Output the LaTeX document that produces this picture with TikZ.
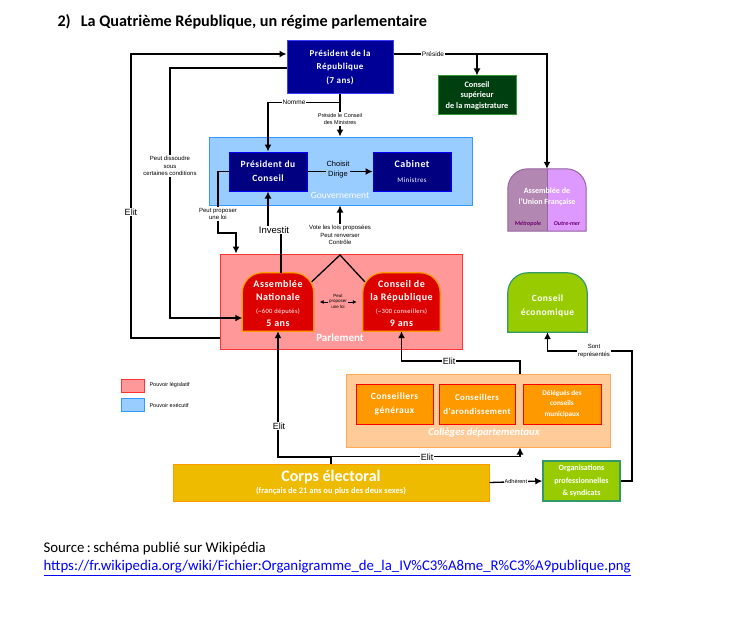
\documentclass[tikz,border=0pt]{standalone}
\usepackage{fontspec}
\setmainfont{Carlito}
\newfontfamily\arialfont{Liberation Sans}
\newfontfamily\boxfont{Carlito}[LetterSpace=5]
\usetikzlibrary{arrows.meta}

\definecolor{prfill}{RGB}{0,0,150}
\definecolor{prdraw}{RGB}{60,60,255}
\definecolor{pcfill}{RGB}{0,0,128}
\definecolor{pcdraw}{RGB}{0,0,255}
\definecolor{gouvfill}{RGB}{153,204,255}
\definecolor{gouvdraw}{RGB}{51,153,255}
\definecolor{csmfill}{RGB}{0,64,16}
\definecolor{csmdraw}{RGB}{51,153,51}
\definecolor{parlfill}{RGB}{255,153,153}
\definecolor{parldraw}{RGB}{255,51,51}
\definecolor{domered}{RGB}{221,0,0}
\definecolor{domeedge}{RGB}{255,153,0}
\definecolor{greenfill}{RGB}{153,204,0}
\definecolor{greendraw}{RGB}{51,153,102}
\definecolor{colfill}{RGB}{255,204,153}
\definecolor{coldraw}{RGB}{255,170,85}
\definecolor{orfill}{RGB}{255,153,0}
\definecolor{ordraw}{RGB}{255,0,0}
\definecolor{corpsfill}{RGB}{238,187,0}
\definecolor{aufleft}{RGB}{178,136,178}
\definecolor{aufright}{RGB}{221,153,255}
\definecolor{aufdraw}{RGB}{150,100,160}
\definecolor{auftext}{RGB}{110,0,110}
\definecolor{linkblue}{RGB}{0,0,255}

\begin{document}
\begin{tikzpicture}[x=1pt,y=-1pt,
    arr/.style={-{Latex[length=7pt,width=7pt]}, line width=1.3pt},
    conn/.style={line width=1.3pt},
    lbl/.style={fill=white, inner sep=1pt, align=center, font=\arialfont\fontsize{6}{7.5}\selectfont},
    elit/.style={lbl, font=\arialfont\fontsize{9}{10}\selectfont},
    box/.style={draw, line width=1pt, inner sep=0pt, align=center, text=white, font=\boxfont\bfseries\fontsize{9}{10}\selectfont},
    domefont/.style={inner sep=0pt, align=center, text=white, font=\boxfont\bfseries\fontsize{10}{13}\selectfont},
]
\useasboundingbox (0,0) rectangle (737,618);

\node[anchor=west, font=\bfseries\fontsize{16.2}{18}\selectfont] (title) at (54,22) {2)\hspace{10pt}La Quatrième République, un régime parlementaire};

% executif
\node[box, fill=prfill, draw=prdraw, minimum width=106pt, minimum height=53pt, font=\boxfont\bfseries\fontsize{9}{13.5}\selectfont] (pr) at (340,67.5) {Président de la\\République\\(7 ans)};
\node[box, fill=csmfill, draw=csmdraw, minimum width=78pt, minimum height=39pt, font=\bfseries\fontsize{8.3}{10.5}\selectfont] (csm) at (477,95.5) {Conseil\\supérieur\\de la magistrature};
\node[box, fill=gouvfill, draw=gouvdraw, minimum width=263pt, minimum height=68pt] (gouv) at (340.5,171) {};
\node[text=white, font=\fontsize{9.5}{10}\selectfont] (gouvlbl) at (340,195) {Gouvernement};
\node[box, fill=pcfill, draw=pcdraw, minimum width=78pt, minimum height=39pt, font=\boxfont\bfseries\fontsize{9.5}{14}\selectfont] (pdc) at (268,171.5) {Président du\\Conseil};
\node[box, fill=pcfill, draw=pcdraw, minimum width=78pt, minimum height=39pt] (cab) at (412,171.5) {{\fontsize{10}{12}\selectfont Cabinet}\\[5pt]{\mdseries\fontsize{7}{9}\selectfont Ministres}};

% Assemblee de l'Union francaise
\node[minimum width=78pt, minimum height=62pt, inner sep=0pt] (auf) at (547,200) {};
\fill[aufleft] (auf.south west) [rounded corners=20pt] -- (auf.north west) -- (auf.north east) [sharp corners] -- (auf.south east) -- cycle;
\begin{scope}
  \clip (auf.north) rectangle (auf.south east);
  \fill[aufright] (auf.south west) [rounded corners=20pt] -- (auf.north west) -- (auf.north east) [sharp corners] -- (auf.south east) -- cycle;
\end{scope}
\draw[aufdraw, line width=1pt] (auf.south west) [rounded corners=20pt] -- (auf.north west) -- (auf.north east) [sharp corners] -- (auf.south east) -- cycle;
\draw[aufdraw, line width=0.8pt] (auf.north) -- (auf.south);
\node[inner sep=0pt, align=center, text=white, font=\bfseries\fontsize{8}{11}\selectfont] (auftxt) at (547,197) {Assemblée de\\l'Union Française};
\node[text=auftext, font=\bfseries\itshape\fontsize{6}{7}\selectfont] (metro) at (528,224) {Métropole};
\node[text=auftext, font=\bfseries\itshape\fontsize{6}{7}\selectfont] (outremer) at (567,224) {Outre-mer};

% parlement
\node[box, fill=parlfill, draw=parldraw, minimum width=242pt, minimum height=95pt] (parl) at (341,301.5) {};
\node[text=white, font=\bfseries\fontsize{11}{12}\selectfont] (parllbl) at (340,338) {Parlement};
\node[minimum width=71pt, minimum height=58pt, inner sep=0pt] (an) at (278,302) {};
\node[minimum width=77pt, minimum height=58pt, inner sep=0pt] (cr) at (401.5,302) {};
\draw[domeedge, fill=domered, line width=1.2pt] (an.south west) [rounded corners=20pt] -- (an.north west) -- (an.north east) [sharp corners] -- (an.south east) -- cycle;
\draw[domeedge, fill=domered, line width=1.2pt] (cr.south west) [rounded corners=20pt] -- (cr.north west) -- (cr.north east) [sharp corners] -- (cr.south east) -- cycle;
\node[domefont] (antxt) at (278,304) {Assemblée\\Nationale\\{\mdseries\fontsize{6.5}{13}\selectfont (\textasciitilde600 députés)}\\5 ans};
\node[domefont] (crtxt) at (401.5,304) {Conseil de\\la République\\{\mdseries\fontsize{6.5}{13}\selectfont (\textasciitilde300 conseillers)}\\9 ans};

% conseil economique
\node[minimum width=79pt, minimum height=59pt, inner sep=0pt] (ce) at (547.5,302.5) {};
\draw[greendraw, fill=greenfill, line width=1.2pt] (ce.south west) [rounded corners=20pt] -- (ce.north west) -- (ce.north east) [sharp corners] -- (ce.south east) -- cycle;
\node[domefont, font=\boxfont\bfseries\fontsize{9.5}{14}\selectfont] (cetxt) at (547.5,306) {Conseil\\économique};

% colleges
\node[box, fill=colfill, draw=coldraw, minimum width=264pt, minimum height=73pt] (col) at (478,410.5) {};
\node[text=white, font=\bfseries\itshape\fontsize{10.5}{12}\selectfont] (collbl) at (484,433) {Collèges départementaux};
\node[box, fill=orfill, draw=ordraw, minimum width=77pt, minimum height=40pt, font=\boxfont\bfseries\fontsize{9.5}{14}\selectfont] (cg) at (394.5,404) {Conseillers\\généraux};
\node[box, fill=orfill, draw=ordraw, minimum width=76pt, minimum height=40pt, font=\boxfont\bfseries\fontsize{8.8}{14}\selectfont] (ca) at (477,404) {Conseillers\\d'arondissement};
\node[box, fill=orfill, draw=ordraw, minimum width=78pt, minimum height=40pt, font=\bfseries\fontsize{7.2}{10.5}\selectfont] (dcm) at (562,404) {Délégués des\\conseils\\municipaux};

% corps electoral
\node[box, fill=corpsfill, draw=domeedge, minimum width=316pt, minimum height=37pt, font=\bfseries\fontsize{8.5}{10}\selectfont] (corps) at (331,482.5) {{\fontsize{16}{18}\selectfont Corps électoral}\\[2pt](français de 21 ans ou plus des deux sexes)};
\node[box, fill=greenfill, draw=greendraw, line width=1.5pt, minimum width=77pt, minimum height=40pt, font=\bfseries\fontsize{8}{12.5}\selectfont] (org) at (581.5,481) {Organisations\\professionnelles\\\& syndicats};

% legende
\node[draw=parldraw, fill=parlfill, line width=1pt, minimum width=23pt, minimum height=13pt, inner sep=0pt] (legl) at (132.5,385.5) {};
\node[draw=gouvdraw, fill=gouvfill, line width=1pt, minimum width=23pt, minimum height=13pt, inner sep=0pt] (lege) at (132.5,405) {};
\node[anchor=west, font=\arialfont\fontsize{5.5}{6}\selectfont] (leglt) at (146,385.5) {Pouvoir législatif};
\node[anchor=west, font=\arialfont\fontsize{5.5}{6}\selectfont] (leget) at (146,405) {Pouvoir exécutif};

% liaisons
\draw[arr] (parl.west |- 0,338) -| (131,54) -- (pr.west |- 0,54);
\node[elit] (elit1) at (131,212) {Elit};
\draw[arr] (pr.west |- 0,68) -| (170,318) -- (an.west |- 0,318);
\node[lbl] (dissoudre) at (170,166) {Peut dissoudre\\sous\\certaines conditions};

\draw[arr] (pr.east |- 0,54) -| (auf.north);
\draw[arr] (csm.north |- 0,54) -- (csm.north);
\node[lbl, font=\arialfont\fontsize{6.5}{7.5}\selectfont] (preside) at (433,54) {Préside};

\draw[arr] (pr.south) -- ++(0,8) -| (pdc.north);
\node[lbl, font=\arialfont\fontsize{6.5}{7.5}\selectfont] (nomme) at (294,102) {Nomme};
\draw[arr] (pr.south) -- (pr.south |- gouv.north);
\node[lbl, font=\arialfont\fontsize{5.5}{7.5}\selectfont] (presconseil) at (340,119) {Préside le Conseil\\des Ministres};

\draw[arr] (pdc.east) -- (cab.west);
\node[lbl, fill=gouvfill, font=\arialfont\fontsize{7.5}{10}\selectfont] (choisit) at (338,170) {Choisit\\Dirige};

\draw[arr] (pdc.west) -| (218,233) -| (236,0 |- parl.north);
\node[lbl] (proposer) at (218,214) {Peut proposer\\une loi};

\draw[arr] (an.north -| 281,0) -- (281,230) -- (268,230) -- (pdc.south);
\node[elit, font=\arialfont\fontsize{9.5}{10}\selectfont] (investit) at (274,230) {Investit};

\node[lbl] (vote) at (340,235) {Vote les lois proposées\\Peut renverser\\Contrôle};
\draw[arr] (vote.north) -- (vote.north |- gouv.south);
\coordinate (apex) at (340,255);
\draw[conn] ([shift={(-2,9)}]an.north east) -- (apex) -- ([shift={(2,9)}]cr.north west);

\draw[{Latex[length=4pt,width=4pt]}-{Latex[length=4pt,width=4pt]}, line width=0.9pt, shorten <=6pt, shorten >=6pt] (an.east) -- (cr.west);
\node[lbl, fill=parlfill, font=\arialfont\fontsize{4.5}{5.5}\selectfont] (proploi) at (338,301) {Peut\\proposer\\une loi};

\draw[arr] (col.north -| 520,0) |- (cr.south |- 0,361) -- (cr.south);
\node[elit] (elit2) at (449,361) {Elit};

\draw[arr] (corps.north) |- (an.south |- 0,457) -- (an.south);
\draw[arr] (corps.north) -- ++(0,-7) -| (col.south -| 520,0);
\node[elit] (elit3) at (279,426) {Elit};
\node[elit] (elit4) at (427,457) {Elit};

\draw[arr] (corps.east) -- (org.west) node[lbl, midway, font=\arialfont\fontsize{5.5}{6.5}\selectfont] (adherent) {Adhèrent};

\draw[arr] (org.east) -| (632,351) -| (ce.south);
\node[lbl] (sontrep) at (594,351) {Sont\\représentés};

% source
\node[anchor=west, font=\fontsize{14.8}{16}\selectfont] (source) at (40,549) {Source\,:\,schéma publié sur Wikipédia};
\node[anchor=west, text=linkblue, font=\fontsize{14.8}{16}\selectfont] (url) at (40,568) {\underline{https://fr.wikipedia.org/wiki/Fichier:Organigramme\_de\_la\_IV\%C3\%A8me\_R\%C3\%A9publique.png}};
\end{tikzpicture}
\end{document}
